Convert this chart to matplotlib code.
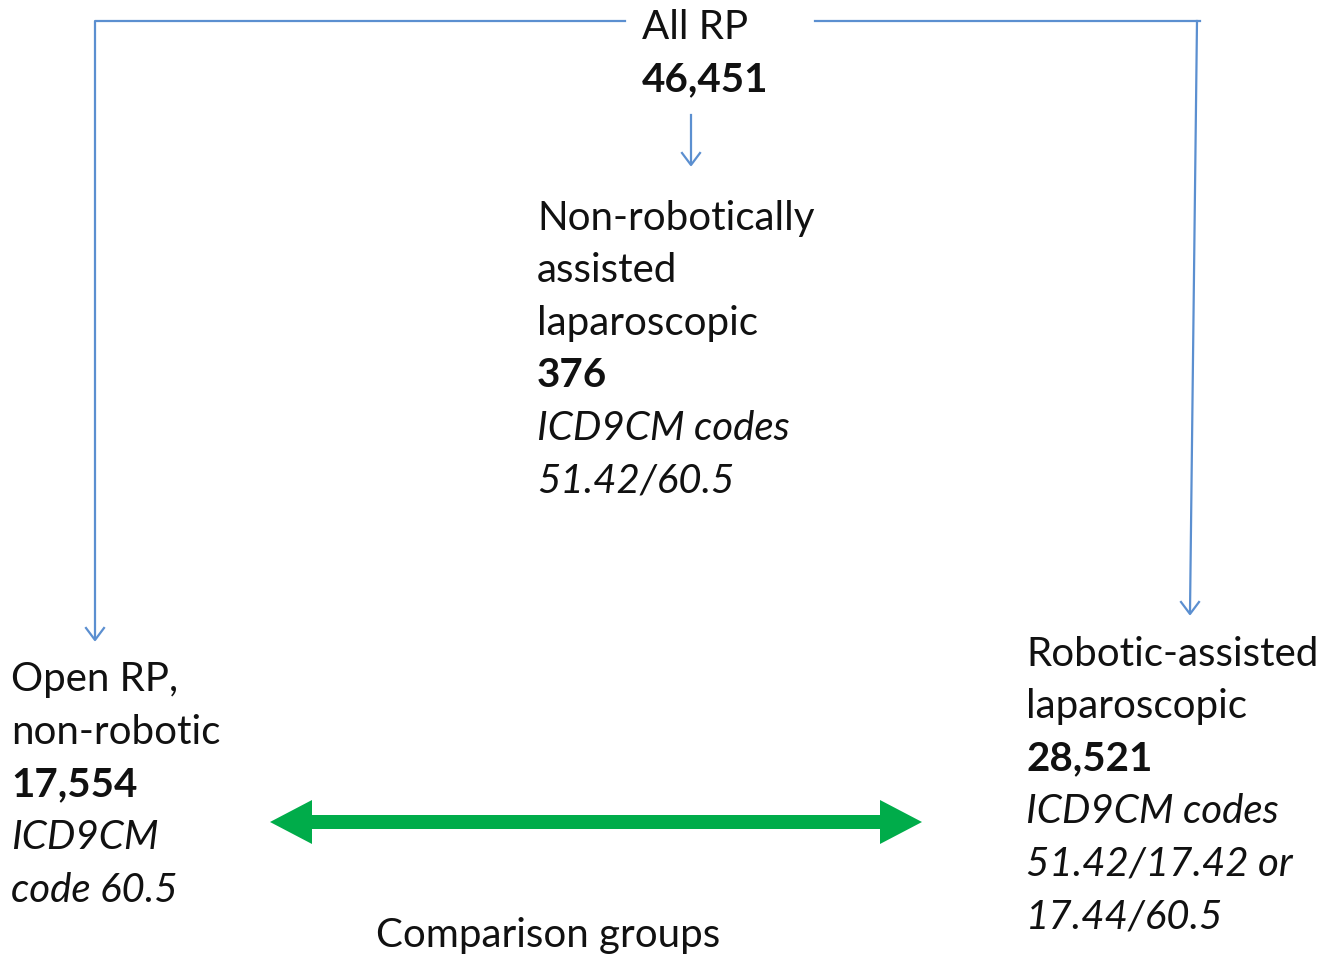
import matplotlib.pyplot as plt
from matplotlib.patches import FancyArrow

# Flowchart content
top_label = 'All RP'
top_count = '46,451'
mid_lines = ['Non-robotically', 'assisted', 'laparoscopic']
mid_count = '376'
mid_codes = ['ICD9CM codes', '51.42/60.5']
left_lines = ['Open RP,', 'non-robotic']
left_count = '17,554'
left_codes = ['ICD9CM', 'code 60.5']
right_lines = ['Robotic-assisted', 'laparoscopic']
right_count = '28,521'
right_codes = ['ICD9CM codes', '51.42/17.42 or', '17.44/60.5']
bottom_label = 'Comparison groups'

plt.rcParams['font.family'] = ['Lato', 'DejaVu Sans']

fig = plt.figure(figsize=(13.37, 9.56), dpi=100)
ax = fig.add_axes([0, 0, 1, 1])
ax.set_xlim(0, 1337)
ax.set_ylim(956, 0)
ax.axis('off')

blue = '#5b8fd0'
ink = '#111111'
fs = 29
step = 52.6


def block(x, y0, lines, count, codes):
    y = y0
    for s in lines:
        ax.text(x, y, s, fontsize=fs, va='center', ha='left', color=ink)
        y += step
    ax.text(x, y, count, fontsize=fs, va='center', ha='left', fontweight='bold', color=ink)
    y += step
    for s in codes:
        ax.text(x, y, s, fontsize=fs, va='center', ha='left', style='italic', color=ink)
        y += step


# top
ax.text(642, 27, top_label, fontsize=fs, va='center', ha='left', color=ink)
ax.text(642, 80, top_count, fontsize=fs, va='center', ha='left', fontweight='bold', color=ink)

block(537, 218, mid_lines, mid_count, mid_codes)
block(11, 680, left_lines, left_count, left_codes)
block(1026, 654, right_lines, right_count, right_codes)

ax.text(548, 935, bottom_label, fontsize=fs, va='center', ha='center', color=ink)

# connector lines
ax.plot([625, 95, 95], [21, 21, 638], color=blue, lw=1.6)
ax.plot([815, 1200], [21, 21], color=blue, lw=1.6)
ax.plot([1197, 1190], [21, 612], color=blue, lw=1.6)
ax.plot([691, 691], [115, 163], color=blue, lw=1.6)

# small open arrowheads
for (x, y) in [(95, 640), (1190, 614), (691, 165)]:
    ax.plot([x - 9, x, x + 9], [y - 12, y, y - 12], color=blue, lw=1.6)

# green double arrow
green = '#00ac4a'
ax.add_patch(FancyArrow(596, 822, 326, 0, width=14, head_width=44, head_length=42,
                        length_includes_head=True, color=green, lw=0))
ax.add_patch(FancyArrow(596, 822, -326, 0, width=14, head_width=44, head_length=42,
                        length_includes_head=True, color=green, lw=0))

fig.savefig('out.png', dpi=100, facecolor='white')
